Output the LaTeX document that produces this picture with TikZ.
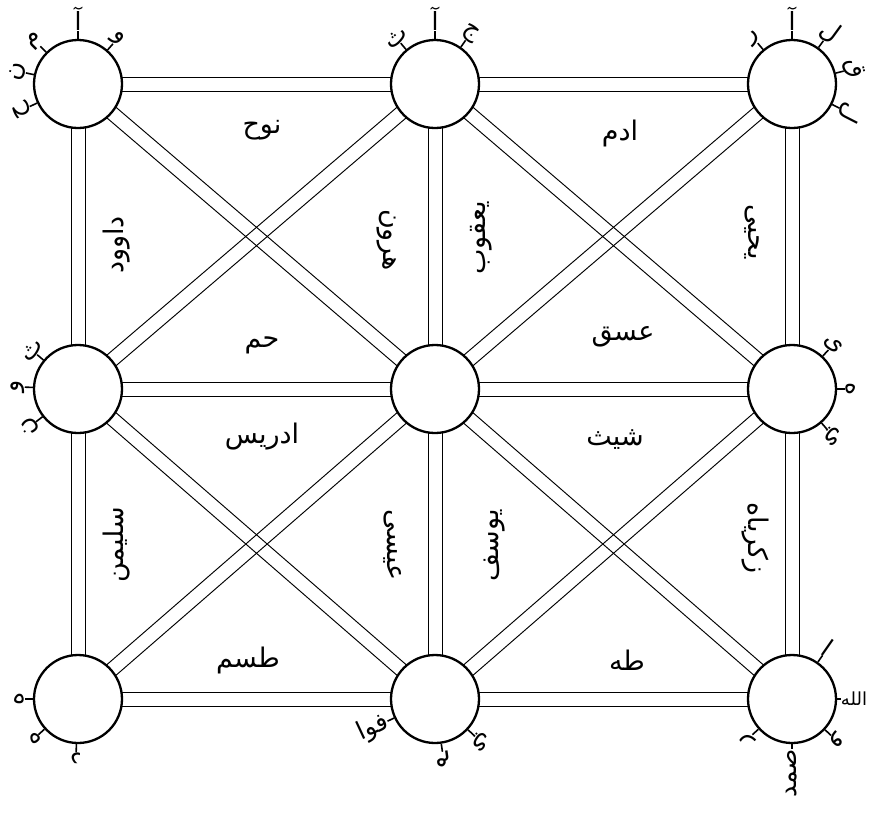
\documentclass[tikz,border=0pt]{standalone}
\usepackage{fontspec}
\newfontfamily\arabicfont[Script=Arabic]{DejaVu Sans}
\TeXXeTstate=1
\usetikzlibrary{calc,backgrounds}
\newcommand\ar[1]{{\arabicfont\beginR #1\endR}}
\newcommand\dline[2]{%
 \draw[conn] ($(#1)!7pt!90:(#2)$) -- ($(#2)!7pt!-90:(#1)$);
 \draw[conn] ($(#1)!7pt!-90:(#2)$) -- ($(#2)!7pt!90:(#1)$);}
\newcommand\deco[4]{%
 \draw[stem] (#1.#2) -- ($(#1)!1.18!(#1.#2)$) coordinate (#4s);
 \node[letter, rotate=#2-90, anchor=south] (#4) at (#4s) {\ar{#3}};}
\newcommand\decow[7]{%
 \draw[stem] (#1.#2) -- ($(#1)!#7!(#1.#2)$) coordinate (#6s);
 \node[letter, rotate=#4, anchor=#5] (#6) at (#6s) {\ar{#3}};}
\begin{document}
\begin{tikzpicture}[x=1pt,y=-1pt,
 conn/.style={line width=0.95pt},
 circ/.style={circle, draw, line width=2.3pt, fill=white, minimum size=88pt, inner sep=0pt},
 stem/.style={line width=1.6pt},
 lbl/.style={font=\fontsize{27}{30}\selectfont, inner sep=0pt},
 letter/.style={font=\fontsize{25}{27}\selectfont, inner sep=0pt}]
\useasboundingbox (0,0) rectangle (870,823);
\node[circ] (tl) at (78,84) {};
\node[circ] (tm) at (435,84) {};
\node[circ] (tr) at (792,84) {};
\node[circ] (ml) at (78,389) {};
\node[circ] (c)  at (435,389) {};
\node[circ] (mr) at (792,389) {};
\node[circ] (bl) at (78,699) {};
\node[circ] (bm) at (435,699) {};
\node[circ] (br) at (792,699) {};
\begin{scope}[on background layer]
 \fill[white] (0,0) rectangle (870,823);
 \dline{tl}{tm} \dline{tm}{tr} \dline{ml}{c} \dline{c}{mr} \dline{bl}{bm} \dline{bm}{br}
 \dline{tl}{ml} \dline{ml}{bl} \dline{tm}{c} \dline{c}{bm} \dline{tr}{mr} \dline{mr}{br}
 \dline{tl}{c} \dline{tr}{c} \dline{bl}{c} \dline{br}{c}
 \dline{tm}{ml} \dline{tm}{mr} \dline{bm}{ml} \dline{bm}{mr}
\end{scope}
\node[lbl] (nuh) at (262,130) {\ar{نوح}};
\node[lbl] (adam) at (620,133) {\ar{ادم}};
\node[lbl, rotate=90] (dawud) at (117,245) {\ar{داوود}};
\node[lbl, rotate=-90] (harun) at (387,240) {\ar{هرون}};
\node[lbl, rotate=90] (yaqub) at (481,238) {\ar{يعقوب}};
\node[lbl, rotate=-90] (yahya) at (752,232) {\ar{يحيى}};
\node[lbl] (hm) at (262,345) {\ar{حم}};
\node[lbl] (asq) at (623,337) {\ar{عسق}};
\node[lbl] (idris) at (262,437) {\ar{ادريس}};
\node[lbl] (shith) at (615,440) {\ar{شيث}};
\node[lbl, rotate=90] (sulayman) at (117,545) {\ar{سليمن}};
\node[lbl, rotate=-90] (isa) at (393,545) {\ar{عيسى}};
\node[lbl, rotate=90] (yusuf) at (495,545) {\ar{يوسف}};
\node[lbl, rotate=-90] (zakariya) at (755,538) {\ar{زكرياه}};
\node[lbl] (tsm) at (248,660) {\ar{طسم}};
\node[lbl] (th) at (627,660) {\ar{طه}};
\deco{tl}{90}{آ}{tla}
\deco{tl}{49}{و}{tlb}
\deco{tl}{135}{م}{tlc}
\deco{tl}{168}{ن}{tld}
\deco{tl}{205}{ح}{tle}
\deco{tm}{90}{آ}{tma}
\deco{tm}{130}{ث}{tmb}
\deco{tm}{55}{ج}{tmc}
\deco{tr}{90}{آ}{tra}
\deco{tr}{130}{ر}{trb}
\deco{tr}{54}{ل}{trc}
\deco{tr}{14}{ق}{trd}
\deco{tr}{-27}{ل}{tre}
\deco{ml}{140}{ث}{mla}
\deco{ml}{178}{و}{mlb}
\deco{ml}{218}{ن}{mlc}
\deco{mr}{47}{ى}{mra}
\deco{mr}{0}{ه}{mrb}
\deco{mr}{-49}{ي}{mrc}
\deco{bl}{180}{ه}{bla}
\deco{bl}{222}{ه}{blb}
\deco{bl}{268}{د}{blc}
\decow{bm}{205}{فوا}{25}{east}{bma}{1.16}
\deco{bm}{278}{م}{bmb}
\deco{bm}{-43}{ي}{bmc}
\deco{br}{55}{ا}{bra}
\node[letter, font=\fontsize{18}{20}\selectfont, anchor=west] (brb) at ($(br)!1.08!(br.0)$) {\ar{الله}};
\draw[stem] (br.0) -- (brb.west);
\deco{br}{-43}{و}{brc}
\decow{br}{270}{صمد}{90}{east}{brd}{1.1}
\deco{br}{222}{ر}{bre}
\end{tikzpicture}
\end{document}
